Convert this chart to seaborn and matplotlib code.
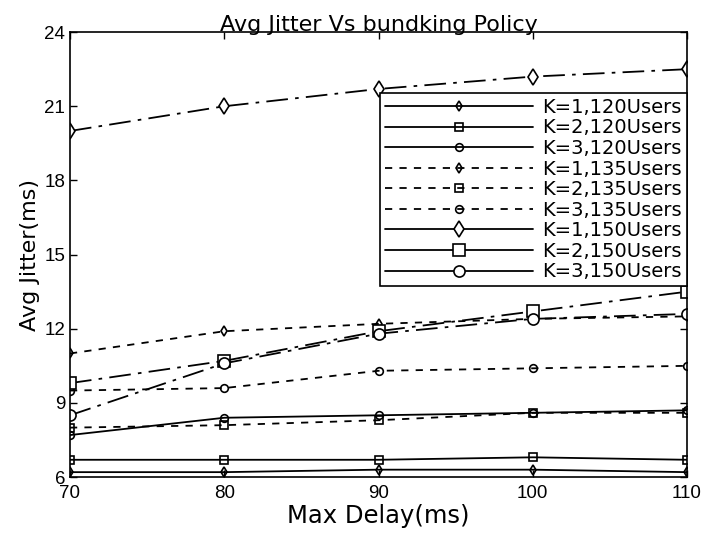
import numpy as np
import pandas as pd
import seaborn as sns
import matplotlib.pyplot as plt
from matplotlib.lines import Line2D

# data
max_delay = [70, 80, 90, 100, 110]

k1_120 = [6.2, 6.2, 6.3, 6.3, 6.2]
k2_120 = [6.7, 6.7, 6.7, 6.8, 6.7]
k3_120 = [7.7, 8.4, 8.5, 8.6, 8.7]
k1_135 = [11.0, 11.9, 12.2, 12.4, 12.5]
k2_135 = [8.0, 8.1, 8.3, 8.6, 8.6]
k3_135 = [9.5, 9.6, 10.3, 10.4, 10.5]
k1_150 = [20.0, 21.0, 21.7, 22.2, 22.5]
k2_150 = [9.8, 10.7, 11.9, 12.7, 13.5]
k3_150 = [8.5, 10.6, 11.8, 12.4, 12.6]

labels = ['K=1,120Users', 'K=2,120Users', 'K=3,120Users',
          'K=1,135Users', 'K=2,135Users', 'K=3,135Users',
          'K=1,150Users', 'K=2,150Users', 'K=3,150Users']
series = [k1_120, k2_120, k3_120, k1_135, k2_135, k3_135, k1_150, k2_150, k3_150]

sns.set_style('ticks')
plt.rcParams['font.family'] = ['DejaVu Sans']
plt.rcParams.update({'text.color': 'black', 'axes.labelcolor': 'black',
                     'xtick.color': 'black', 'ytick.color': 'black'})

fig = plt.figure(figsize=(7.02, 5.44), dpi=100)
ax = fig.add_axes([0.0997, 0.123, 0.879, 0.818])

markers = ['d', 's', 'o'] * 3
dashed = (0, (4, 4))
dashdot = (0, (12, 4, 2, 4))
plot_styles = ['-'] * 3 + [dashed] * 3 + [dashdot] * 3
legend_styles = ['-'] * 3 + [dashed] * 3 + ['-'] * 3
msizes = [5.5] * 6 + [8] * 3
faces = ['none'] * 6 + ['white'] * 3

handles = []
for i, (lab, vals) in enumerate(zip(labels, series)):
    df = pd.DataFrame({'delay': max_delay, 'jitter': vals})
    sns.lineplot(data=df, x='delay', y='jitter', ax=ax, color='black',
                 linestyle=plot_styles[i], linewidth=1.3, marker=markers[i],
                 markersize=msizes[i], markerfacecolor=faces[i],
                 markeredgecolor='black', markeredgewidth=1.2)
    handles.append(Line2D([], [], color='black', linestyle=legend_styles[i],
                          linewidth=1.3, marker=markers[i], markersize=msizes[i],
                          markerfacecolor=faces[i], markeredgecolor='black',
                          markeredgewidth=1.2))

ax.set_xlim(70, 110)
ax.set_ylim(6, 24)
ax.set_xticks([70, 80, 90, 100, 110])
ax.set_yticks([6, 9, 12, 15, 18, 21, 24])
ax.tick_params(direction='in', top=True, right=True, length=5, width=1)
ax.tick_params(axis='x', pad=6)
for t in ax.get_xticklabels() + ax.get_yticklabels():
    t.set_fontfamily(['Liberation Sans', 'DejaVu Sans'])
    t.set_fontsize(13.5)
for s in ax.spines.values():
    s.set_visible(True)
    s.set_linewidth(1.2)
    s.set_color('black')

ax.set_xlabel('Max Delay(ms)', fontsize=17.5, labelpad=1)
ax.set_ylabel('Avg Jitter(ms)', fontsize=16, labelpad=3)
ax.set_title('Avg Jitter Vs bundking Policy', fontsize=16, pad=1)

leg = ax.legend(handles=handles, labels=labels, loc='upper right',
                bbox_to_anchor=(1.0, 0.863), borderaxespad=0, fontsize=14,
                handlelength=7.6, handletextpad=0.5, labelspacing=0.08,
                fancybox=False, frameon=True, borderpad=0.25)
leg.get_frame().set_edgecolor('black')
leg.get_frame().set_linewidth(1.2)
leg.get_frame().set_alpha(1)

fig.savefig('out.png', dpi=100)
